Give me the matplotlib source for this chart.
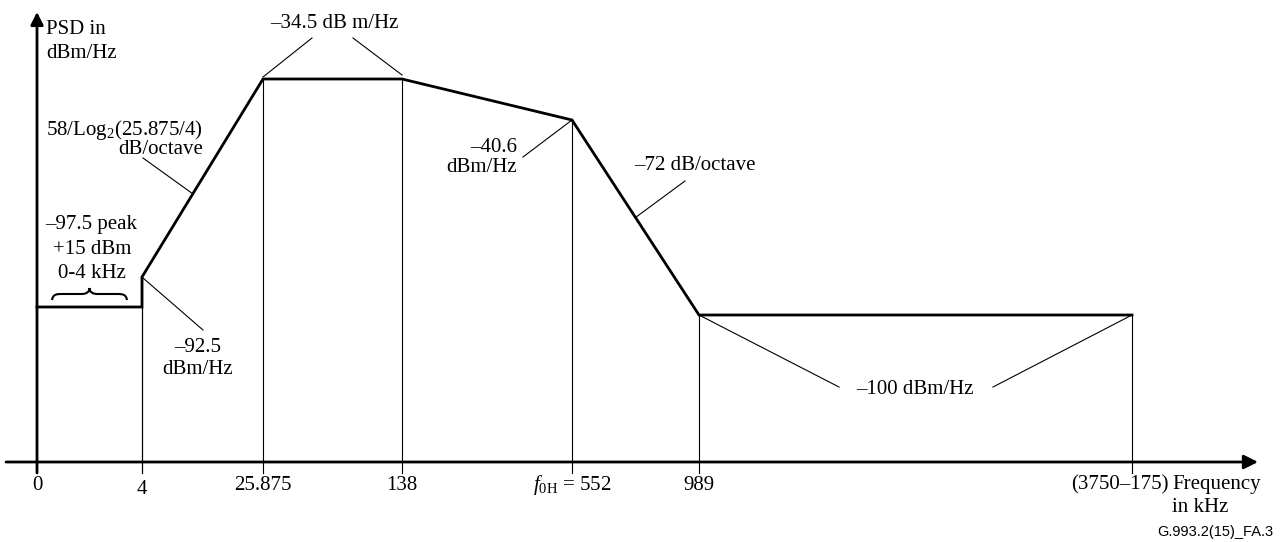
import matplotlib
matplotlib.use("Agg")
import matplotlib.pyplot as plt
from matplotlib.path import Path
from matplotlib.patches import PathPatch

# data: PSD mask breakpoints (kHz, dBm/Hz)
mask_freq = [0, 4, 4, 25.875, 138, 552, 989, 3575]
mask_psd = [-97.5, -97.5, -92.5, -34.5, -34.5, -40.6, -100, -100]
tick_freq = [0, 4, 25.875, 138, 552, 989, 3575]
tick_labels = ["0", "4", "25.875", "138", r"$f_{\rm 0H}$ = 552", "989", "(3750–175)"]

# schematic layout (figure is not to scale)
x_slot = {0: 37, 4: 142, 25.875: 263, 138: 402, 552: 572, 989: 699, 3575: 1132}
y_slot = {-97.5: 307, -92.5: 277, -40.6: 120, -34.5: 79, -100: 315}
axis_y = 462
tick_end = 473

plt.rcParams['font.family'] = ['Liberation Serif', 'DejaVu Serif']
plt.rcParams['mathtext.fontset'] = 'custom'
plt.rcParams['mathtext.rm'] = 'Liberation Serif'
plt.rcParams['mathtext.it'] = 'Liberation Serif:italic'
FS = 15

def sx(f):
    return x_slot[f]

def sy(p):
    return y_slot[p]

fig = plt.figure(figsize=(12.84, 5.42), dpi=100)
ax = fig.add_axes([0, 0, 1, 1])
ax.set_xlim(0, 1284)
ax.set_ylim(542, 0)
ax.axis('off')

# axes with arrows
ax.annotate('', xy=(1258, axis_y), xytext=(6, axis_y),
            arrowprops=dict(arrowstyle='-|>', lw=2.0, color='black',
                            mutation_scale=21, shrinkA=0, shrinkB=0))
ax.annotate('', xy=(sx(0), 12), xytext=(sx(0), tick_end),
            arrowprops=dict(arrowstyle='-|>', lw=2.0, color='black',
                            mutation_scale=19, shrinkA=0, shrinkB=0))

# mask
mx = [sx(f) for f in mask_freq]
my = [sy(p) for p in mask_psd]
ax.plot(mx, my, color='black', lw=2.0, solid_joinstyle='miter')

# thin verticals down to the ticks
for f, p in zip(mask_freq, mask_psd):
    if f == 0:
        continue
    ax.plot([sx(f), sx(f)], [sy(p), tick_end], color='black', lw=0.8)

# tick labels
for f, lab in zip(tick_freq, tick_labels):
    xc = sx(f)
    yc = 485
    if f == 4:
        yc = 489
    if f == 3575:
        xc = 1120
    ax.text(xc, yc, lab, ha='center', va='center', fontsize=FS)

ax.text(1172, 485, "Frequency", ha='left', va='center', fontsize=FS)
ax.text(1172, 508, "in kHz", ha='left', va='center', fontsize=FS)
ax.text(1273, 532, "G.993.2(15)_FA.3", ha='right', va='center', fontsize=10.5,
        family=['Liberation Sans', 'DejaVu Sans'])

ax.text(46, 30, "PSD in", ha='left', va='center', fontsize=FS)
ax.text(46, 53, "dBm/Hz", ha='left', va='center', fontsize=FS)


def leader(p0, p1):
    ax.plot([p0[0], p1[0]], [p0[1], p1[1]], color='black', lw=0.8)


def on_segment(i, t):
    return (mx[i] + t * (mx[i + 1] - mx[i]), my[i] + t * (my[i + 1] - my[i]))

# -34.5 peak
ax.text(334, 23, "–34.5 dB m/Hz", ha='center', va='center', fontsize=FS)
leader((sx(25.875), sy(-34.5) - 2), (312, 38))
leader((sx(138), sy(-34.5) - 4), (353, 38))

# rising slope
ax.text(203, 130, "58/Log$_2$(25.875/4)", ha='right', va='center', fontsize=FS)
ax.text(203, 150, "dB/octave", ha='right', va='center', fontsize=FS)
leader(on_segment(2, 0.42), (143, 158))

# in-band voice
ax.text(91, 225, "–97.5 peak", ha='center', va='center', fontsize=FS)
ax.text(92, 250, "+15 dBm", ha='center', va='center', fontsize=FS)
ax.text(92, 274, "0-4 kHz", ha='center', va='center', fontsize=FS)
bx0, bx1, bmid = 52, 127, 89.5
be, bf, bt = 300, 294, 288
verts = [(bx0, be), (bx0 + 1, bf), (bx0 + 5, bf), (bx0 + 10, bf),
         (bmid - 8, bf),
         (bmid - 3, bf), (bmid, bf - 2), (bmid, bt),
         (bmid, bf - 2), (bmid + 3, bf), (bmid + 8, bf),
         (bx1 - 10, bf),
         (bx1 - 5, bf), (bx1 - 1, bf), (bx1, be)]
codes = [Path.MOVETO, Path.CURVE4, Path.CURVE4, Path.CURVE4,
         Path.LINETO,
         Path.CURVE4, Path.CURVE4, Path.CURVE4,
         Path.CURVE4, Path.CURVE4, Path.CURVE4,
         Path.LINETO,
         Path.CURVE4, Path.CURVE4, Path.CURVE4]
ax.add_patch(PathPatch(Path(verts, codes), fill=False, lw=1.5, edgecolor='black'))

# -92.5 step
ax.text(198, 347, "–92.5", ha='center', va='center', fontsize=FS)
ax.text(198, 369, "dBm/Hz", ha='center', va='center', fontsize=FS)
leader((sx(4) + 1, sy(-92.5) + 1), (203, 330))

# -40.6 at f0H
ax.text(517, 147, "–40.6", ha='right', va='center', fontsize=FS)
ax.text(517, 168, "dBm/Hz", ha='right', va='center', fontsize=FS)
leader((sx(552), sy(-40.6)), (523, 157))

# falling slope
ax.text(634, 165, "–72 dB/octave", ha='left', va='center', fontsize=FS)
leader(on_segment(5, 0.5), (685, 181))

# -100 floor
ax.text(915, 390, "–100 dBm/Hz", ha='center', va='center', fontsize=FS)
leader((sx(989), sy(-100)), (839, 387))
leader((993, 387), (sx(3575), sy(-100)))

fig.savefig("out.png", dpi=100)
